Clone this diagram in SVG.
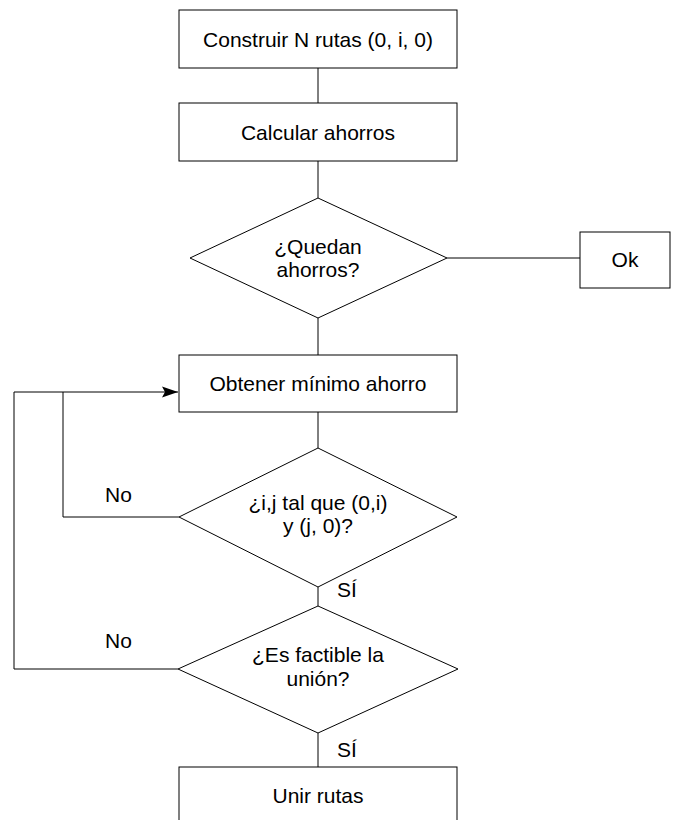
<svg xmlns="http://www.w3.org/2000/svg" width="681" height="820" viewBox="0 0 681 820">
<style>
.n{fill:#fff;stroke:#000;stroke-width:1}
.t{font-family:"Liberation Sans",Arial,sans-serif;font-size:21px;fill:#000;text-anchor:middle}
.l{font-family:"Liberation Sans",Arial,sans-serif;font-size:21px;fill:#000}
.c{fill:none;stroke:#000;stroke-width:1}
</style>
<defs>
<marker id="ah" viewBox="0 0 16 12" refX="16" refY="6" markerWidth="16" markerHeight="12" markerUnits="userSpaceOnUse" orient="auto">
<path d="M0,0.5 L16,6 L0,11.5 L3,6 Z" fill="#000"/>
</marker>
</defs>
<rect width="681" height="820" fill="#fff"/>
<g id="connectors">
<path class="c" d="M318,68 V103"/>
<path class="c" d="M318,161 V198"/>
<path class="c" d="M447,258 H580"/>
<path class="c" d="M318,318 V355"/>
<path class="c" d="M318,412 V448"/>
<path class="c" d="M179,517 H63 V392"/>
<path class="c" d="M14,392 H178" marker-end="url(#ah)"/>
<path class="c" d="M318,587 V606"/>
<path class="c" d="M178,669 H14 V392"/>
<path class="c" d="M318,733 V767"/>
<text class="l" x="105" y="502">No</text>
<text class="l" x="105" y="648">No</text>
<text class="l" x="337" y="597">SÍ</text>
<text class="l" x="337" y="757">SÍ</text>
</g>
<g id="construir">
<rect class="n" x="179" y="10" width="278" height="58"/>
<text class="t" x="318" y="47">Construir N rutas (0, i, 0)</text>
</g>
<g id="calcular">
<rect class="n" x="179" y="103" width="278" height="58"/>
<text class="t" x="318" y="140">Calcular ahorros</text>
</g>
<g id="quedan">
<polygon class="n" points="318,198 447,258 318,318 190,258"/>
<text class="t" x="318" y="254">¿Quedan</text>
<text class="t" x="318" y="277">ahorros?</text>
</g>
<g id="ok">
<rect class="n" x="580" y="232" width="90" height="56"/>
<text class="t" x="625" y="267">Ok</text>
</g>
<g id="obtener">
<rect class="n" x="179" y="355" width="278" height="57"/>
<text class="t" x="318" y="391">Obtener mínimo ahorro</text>
</g>
<g id="ij">
<polygon class="n" points="318,448 457,517 318,587 179,517"/>
<text class="t" x="318" y="510">¿i,j tal que (0,i)</text>
<text class="t" x="318" y="533">y (j, 0)?</text>
</g>
<g id="factible">
<polygon class="n" points="318,606 458,669 318,733 178,669"/>
<text class="t" x="318" y="662">¿Es factible la</text>
<text class="t" x="318" y="686">unión?</text>
</g>
<g id="unir">
<rect class="n" x="179" y="767" width="278" height="58"/>
<text class="t" x="318" y="803">Unir rutas</text>
</g>
</svg>
